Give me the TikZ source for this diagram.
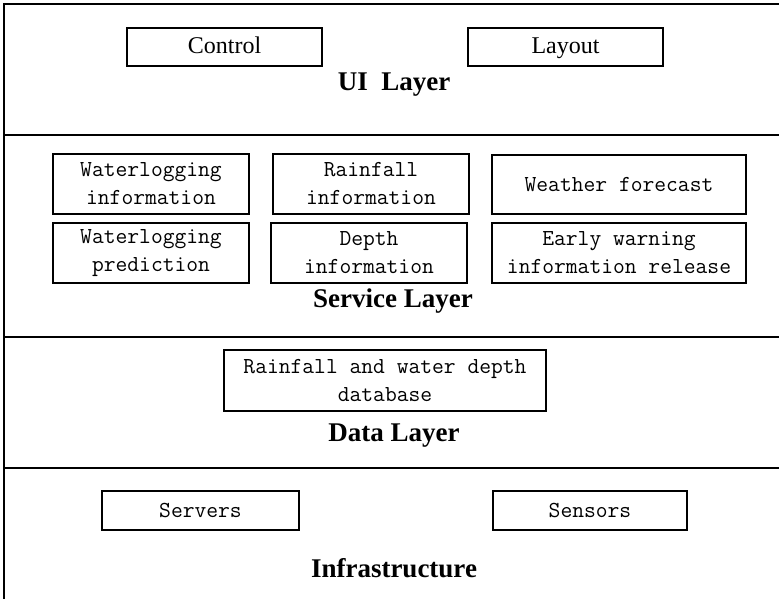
\documentclass[tikz,border=0pt]{standalone}
\usepackage{fontspec}
\setmainfont{Liberation Serif}
\usetikzlibrary{positioning}

\begin{document}
\begin{tikzpicture}[x=1pt,y=-1pt,
 box/.style={draw,line width=1.2pt,align=center,inner sep=0pt,
  minimum width=196pt,minimum height=60pt,
  font=\ttfamily\fontsize{22.9}{28}\selectfont},
 uibox/.style={box,minimum height=38pt,text height=18pt,text depth=4pt,
  font=\fontsize{24}{28}\selectfont},
 layer/.style={font=\bfseries\fontsize{27}{30}\selectfont}]
\useasboundingbox (0,0) rectangle (779,599);
% frame and layer borders
\draw[line width=1.5pt] (779,4) -- (4,4) -- (4,599);
\draw[line width=1.5pt] (4,135) -- (779,135);
\draw[line width=1.5pt] (4,337) -- (779,337);
\draw[line width=1.5pt] (4,468) -- (779,468);
% UI layer
\node[uibox,minimum width=195pt] (control) at (224.5,47) {Control};
\node[uibox,minimum width=195pt] (layout) at (565.5,47) {Layout};
\node[layer] (ui) at (394,85) {UI~~Layer};
% service layer
\node[box] (wlinfo) at (151,184) {Waterlogging\\information};
\node[box] (raininfo) at (371,184) {Rainfall\\information};
\node[box,minimum width=254pt,minimum height=59pt] (forecast) at (619,184.5) {Weather forecast};
\node[box] (wlpred) at (151,253) {Waterlogging\\prediction};
\node[box] (depthinfo) at (369,253) {Depth\\information};
\node[box,minimum width=254pt] (warning) at (619,253) {Early warning\\information release};
\node[layer] (service) at (393,301) {Service Layer};
% data layer
\node[box,minimum width=322pt,minimum height=61pt] (db) at (385,380.5) {Rainfall and water depth\\database};
\node[layer] (data) at (394,436) {Data Layer};
% infrastructure
\node[box,minimum width=197pt,minimum height=39pt] (servers) at (200.5,510.5) {Servers};
\node[box,minimum width=194pt,minimum height=39pt] (sensors) at (590,510.5) {Sensors};
\node[layer] (infra) at (394,568) {Infrastructure};
\end{tikzpicture}
\end{document}
